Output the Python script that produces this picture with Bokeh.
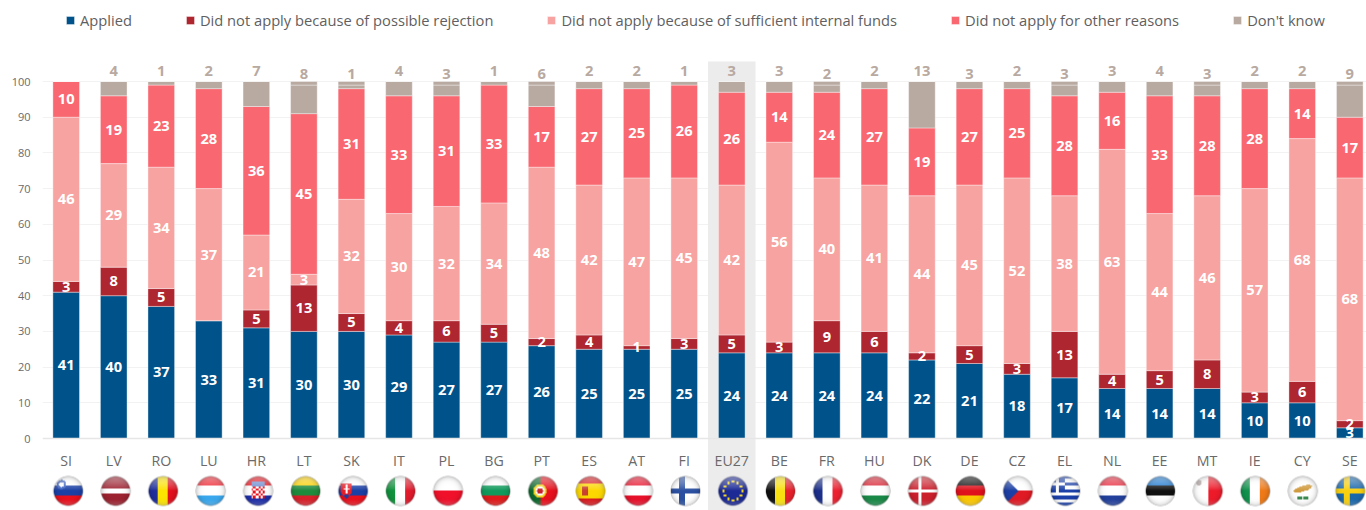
import numpy as np
from bokeh.core.properties import value
from bokeh.embed import file_html
from bokeh.models import (BoxAnnotation, ColumnDataSource, FixedTicker, Legend,
                          LegendItem, Range1d)
from bokeh.plotting import figure
from bokeh.resources import INLINE

categories = ["SI", "LV", "RO", "LU", "HR", "LT", "SK", "IT", "PL", "BG", "PT", "ES", "AT", "FI", "EU27",
              "BE", "FR", "HU", "DK", "DE", "CZ", "EL", "NL", "EE", "MT", "IE", "CY", "SE"]
applied = [41, 40, 37, 33, 31, 30, 30, 29, 27, 27, 26, 25, 25, 25, 24, 24, 24, 24, 22, 21, 18, 17, 14, 14, 14, 10, 10, 3]
rejection = [3, 8, 5, 0, 5, 13, 5, 4, 6, 5, 2, 4, 1, 3, 5, 3, 9, 6, 2, 5, 3, 13, 4, 5, 8, 3, 6, 2]
internal_funds = [46, 29, 34, 37, 21, 3, 32, 30, 32, 34, 48, 42, 47, 45, 42, 56, 40, 41, 44, 45, 52, 38, 63, 44, 46, 57, 68, 68]
other_reasons = [10, 19, 23, 28, 36, 45, 31, 33, 31, 33, 17, 27, 25, 26, 26, 14, 24, 27, 19, 27, 25, 28, 16, 33, 28, 28, 14, 17]
dont_know_labels = [0, 4, 1, 2, 7, 8, 1, 4, 3, 1, 6, 2, 2, 1, 3, 3, 2, 2, 13, 3, 2, 3, 3, 4, 3, 2, 2, 9]
dont_know_bars = [0, 4, 1, 2, 7, 8, 1, 4, 3, 1, 6, 2, 2, 1, 3, 3, 2, 2, 13, 2, 2, 3, 3, 4, 3, 2, 2, 9]
unassigned = [0, 0, 0, 0, 0, 1, 1, 0, 1, 0, 1, 0, 0, 0, 0, 0, 1, 0, 0, 0, 0, 1, 0, 0, 1, 0, 0, 1]
legend_labels = ["Applied", "Did not apply because of possible rejection",
                 "Did not apply because of sufficient internal funds",
                 "Did not apply for other reasons", "Don't know"]
colors = ["#00528a", "#ae2630", "#f6a3a1", "#f96871", "#b8a9a1"]

# ---- geometry ------------------------------------------------------------
W, H = 1366, 510
FRAME_L, BAR0, STEP = 42.0, 65.7, 47.54
PX_PER_UNIT, Y0_PX = 3.57, 438.0
x_start = (FRAME_L - BAR0) / STEP
x_end = (W - BAR0) / STEP
y_end = Y0_PX / PX_PER_UNIT
y_start = (Y0_PX - H) / PX_PER_UNIT

# ---- flags ---------------------------------------------------------------
N = 64
yy, xx = np.mgrid[-1:1:N * 1j, -1:1:N * 1j]


def rgb(h):
    return np.array([int(h[i:i + 2], 16) for i in (1, 3, 5)], dtype=float)


def fill(c):
    a = np.zeros((N, N, 3))
    a[:] = rgb(c)
    return a


def hs(cols, fr=None):
    fr = fr or [1 / len(cols)] * len(cols)
    a, edge = np.zeros((N, N, 3)), -1.0
    for c, f in zip(cols, fr):
        a[(yy >= edge) & (yy <= edge + 2 * f + 1e-9)] = rgb(c)
        edge += 2 * f
    return a


def vs(cols, fr=None):
    fr = fr or [1 / len(cols)] * len(cols)
    a, edge = np.zeros((N, N, 3)), -1.0
    for c, f in zip(cols, fr):
        a[(xx >= edge) & (xx <= edge + 2 * f + 1e-9)] = rgb(c)
        edge += 2 * f
    return a


def cross(bg, fg, t, cx=-0.25):
    a = fill(bg)
    a[(np.abs(yy) < t) | (np.abs(xx - cx) < t)] = rgb(fg)
    return a


WHITE, RED, BLUE = "#ffffff", "#e8101c", "#1c3a9e"


def flag(code):
    if code == "SI":
        a = hs([WHITE, "#1a3fa5", RED])
        a[(xx + .45) ** 2 + (yy + .42) ** 2 < .09] = rgb("#3a5fc0")
        a[(xx + .45) ** 2 + (yy + .42) ** 2 < .025] = rgb(WHITE)
    elif code == "LV":
        a = hs(["#9c2230", WHITE, "#9c2230"], [.4, .2, .4])
    elif code == "RO":
        a = vs(["#1f2f9c", "#fce300", "#e2101e"])
    elif code == "LU":
        a = hs(["#ee2430", WHITE, "#3aa8ee"])
    elif code == "HR":
        a = hs([RED, WHITE, "#1f2fa8"])
        box = (np.abs(xx) < .42) & (yy > -.3) & (yy < .5)
        chk = (np.floor((xx + 1) * 6) + np.floor((yy + 1) * 6)) % 2 == 0
        a[box & chk] = rgb(RED)
        a[box & ~chk] = rgb(WHITE)
        a[(np.abs(xx) < .42) & (yy > -.6) & (yy <= -.3)] = rgb("#6a8ad0")
    elif code == "LT":
        a = hs(["#fbd000", "#1d8a3c", "#d8202a"])
    elif code == "SK":
        a = hs([WHITE, "#1a3fa5", RED])
        sh = (np.abs(xx + .45) < .36 - (yy > .1) * (yy - .1) * .8) & (yy > -.5) & (yy < .5)
        a[sh] = rgb("#e8202a")
        a[(np.abs(xx + .45) < .06) & (yy > -.4) & (yy < .15)] = rgb(WHITE)
        a[(np.abs(xx + .45) < .2) & (np.abs(yy + .15) < .05)] = rgb(WHITE)
        a[((xx + .45) ** 2 + (yy - .42) ** 2 < .04) & sh] = rgb("#1a3fa5")
    elif code == "IT":
        a = vs(["#10923c", WHITE, "#e21a2c"])
    elif code == "PL":
        a = hs([WHITE, "#f0102a"])
    elif code == "BG":
        a = hs([WHITE, "#109a5c", "#e01a1a"])
    elif code == "PT":
        a = vs(["#0e6a2e", "#e8101c"], [.4, .6])
        r2 = (xx + .2) ** 2 + yy ** 2
        a[r2 < .2] = rgb("#f0d020")
        a[r2 < .1] = rgb(WHITE)
        a[r2 < .04] = rgb("#c8202a")
    elif code == "ES":
        a = hs(["#d81a20", "#fcd800", "#d81a20"], [.25, .5, .25])
        a[(np.abs(xx + .35) < .2) & (np.abs(yy) < .3)] = rgb("#c84030")
    elif code == "AT":
        a = hs(["#e8102a", WHITE, "#e8102a"])
    elif code == "FI":
        a = cross(WHITE, "#2a4fa0", .2)
    elif code == "EU27":
        a = fill("#1c2a96")
        for k in range(12):
            t = k * np.pi / 6
            a[(xx - .62 * np.cos(t)) ** 2 + (yy - .62 * np.sin(t)) ** 2 < .0075] = rgb("#f4d820")
    elif code == "BE":
        a = vs(["#101010", "#f8e010", "#e8202c"])
    elif code == "FR":
        a = vs(["#1c2f8c", WHITE, "#ee2030"])
    elif code == "HU":
        a = hs(["#d82030", WHITE, "#1a8a48"])
    elif code == "DK":
        a = cross("#cc1f2c", WHITE, .12, -.2)
    elif code == "DE":
        a = hs(["#101010", "#e0101c", "#fcc800"])
    elif code == "CZ":
        a = hs([WHITE, "#e01a24"])
        a[xx + 1 < (1 - np.abs(yy)) * 1.05] = rgb("#1c3fa5")
    elif code == "EL":
        band = (np.floor((yy + 1) * 4.5) % 2 == 0)
        a = fill(WHITE)
        a[band] = rgb("#1a3fa8")
        cant = (xx < -.05) & (yy < .08)
        a[cant] = rgb("#1a3fa8")
        a[cant & ((np.abs(xx + .5) < .1) | (np.abs(yy + .46) < .1))] = rgb(WHITE)
    elif code == "NL":
        a = hs(["#e8283c", WHITE, "#22409c"])
    elif code == "EE":
        a = hs(["#1c78d0", "#101010", WHITE])
    elif code == "MT":
        a = vs([WHITE, "#ee1a2a"])
        a[(xx + .6) ** 2 + (yy + .55) ** 2 < .03] = rgb("#b0a0a0")
    elif code == "IE":
        a = vs(["#10924c", WHITE, "#f07a18"])
    elif code == "CY":
        a = fill(WHITE)
        a[(((xx * 1.0) / .6) ** 2 + ((yy + .15 + xx * .28) / .2) ** 2) < 1] = rgb("#d09a3c")
        a[(np.abs(yy - .45) < .08) & (np.abs(xx) < .35) & (np.abs(xx) > .06)] = rgb("#3a8a50")
    elif code == "SE":
        a = cross("#1a68ac", "#f8d010", .18)
    else:
        a = fill("#888888")

    r = np.sqrt(xx ** 2 + yy ** 2)
    # glossy sphere: pale cap at the top, slight dark limb
    gloss = np.clip((-yy - .05) / .95, 0, 1) ** .8 * .52
    a = a * (1 - gloss[..., None]) + 255 * gloss[..., None]
    a = a * (1 - .28 * np.clip(r, 0, 1)[..., None] ** 6)
    low = np.clip((yy - .55) / .45, 0, 1) * .22
    a = a * (1 - low[..., None]) + 255 * low[..., None]
    rim = np.clip((r - .91) / .05, 0, 1)[..., None]
    a = a * (1 - rim) + rgb("#c8c8c8") * rim
    alpha = np.clip((1 - r) / .04, 0, 1)
    out = np.dstack([a, alpha * 255]).round().astype(np.uint8)
    return np.flipud(out).view(np.uint32).reshape(N, N)


# ---- figure --------------------------------------------------------------
p = figure(width=W, height=H, output_backend="svg", toolbar_location=None,
           x_range=Range1d(x_start, x_end), y_range=Range1d(y_start, y_end),
           min_border_left=int(FRAME_L), min_border_right=0, min_border_top=0, min_border_bottom=0,
           background_fill_color="white", border_fill_color="white", outline_line_color=None)

idx = list(range(len(categories)))
eu = categories.index("EU27")
p.add_layout(BoxAnnotation(left=eu - .5, right=eu + .5, top=(Y0_PX - 61) / PX_PER_UNIT, bottom=y_start,
                           fill_color="#ececec", fill_alpha=1, line_color=None, level="underlay"))

columns = ["applied", "rejection", "funds", "other", "dk", "rest"]
series = [applied, rejection, internal_funds, other_reasons, dont_know_bars, unassigned]
source = ColumnDataSource(dict(x=idx, **dict(zip(columns, series))))
renderers = p.vbar_stack(columns, x="x", width=.56, source=source, color=colors + [colors[4]],
                         line_color="white", line_alpha=.38, line_width=1)

# data labels inside the segments
base = np.zeros(len(idx))
for s in [applied, rejection, internal_funds, other_reasons]:
    arr = np.array(s, dtype=float)
    lbl = ColumnDataSource(dict(x=idx, y=base + arr / 2, t=[str(v) if v else "" for v in s]))
    p.text("x", "y", text="t", source=lbl, text_color="white", text_align="center", text_baseline="middle",
           text_font=value("Open Sans"), text_font_style="bold", text_font_size="14.7px")
    base = base + arr

# Don't know labels, above the stack
totals = [a + b + c + d + e for a, b, c, d, e in
          zip(applied, rejection, internal_funds, other_reasons, dont_know_labels)]
lbl = ColumnDataSource(dict(x=idx, y=[100 - abs(t - 100) for t in totals],
                            t=[str(v) if v else "" for v in dont_know_labels]))
p.text("x", "y", text="t", source=lbl, text_color="#b8a9a1", text_align="center", text_baseline="middle",
       y_offset=-11, text_font=value("Open Sans"), text_font_style="bold", text_font_size="14.7px")

# flags
fl_x = [i + (2 - 1.5 * i / 27) / STEP for i in idx]
p.image_rgba(image=[flag(c) for c in categories], x=fl_x, y=[(Y0_PX - 490.5) / PX_PER_UNIT] * len(idx),
             dw=31 / STEP, dh=31 / PX_PER_UNIT, anchor="center")

# axes
p.xgrid.visible = False
p.ygrid.grid_line_color = "#f2f2f2"
p.ygrid.ticker = FixedTicker(ticks=list(range(0, 101, 10)))
yax = p.yaxis[0]
yax.ticker = FixedTicker(ticks=list(range(0, 101, 10)))
yax.axis_line_color = None
yax.major_tick_line_color = None
yax.minor_tick_line_color = None
yax.major_label_standoff = 6
yax.major_label_text_color = "#6a6a6a"
yax.major_label_text_font = "Open Sans"
yax.major_label_text_font_size = "11px"
xax = p.xaxis[0]
xax.fixed_location = 0
xax.ticker = FixedTicker(ticks=idx)
xax.major_label_overrides = {i: c for i, c in zip(idx, categories)}
xax.axis_line_color = "#e6e6e6"
xax.axis_line_width = 1.5
xax.major_tick_line_color = None
xax.minor_tick_line_color = None
xax.major_label_standoff = 6
xax.major_label_text_color = "#6a6a6a"
xax.major_label_text_font = "Open Sans"
xax.major_label_text_font_size = "14.2px"

legend = Legend(items=[LegendItem(label=l, renderers=[r]) for l, r in zip(legend_labels, renderers)],
                orientation="horizontal", location=(23, 480), spacing=53, padding=0, margin=0,
                glyph_width=10, glyph_height=10, label_standoff=5, border_line_color=None,
                background_fill_alpha=0, label_text_font="Open Sans", label_text_font_size="14.7px",
                label_text_color="#5f5f5f", label_height=20)
p.add_layout(legend, "center")

open("out.html", "w").write(file_html(p, INLINE))
